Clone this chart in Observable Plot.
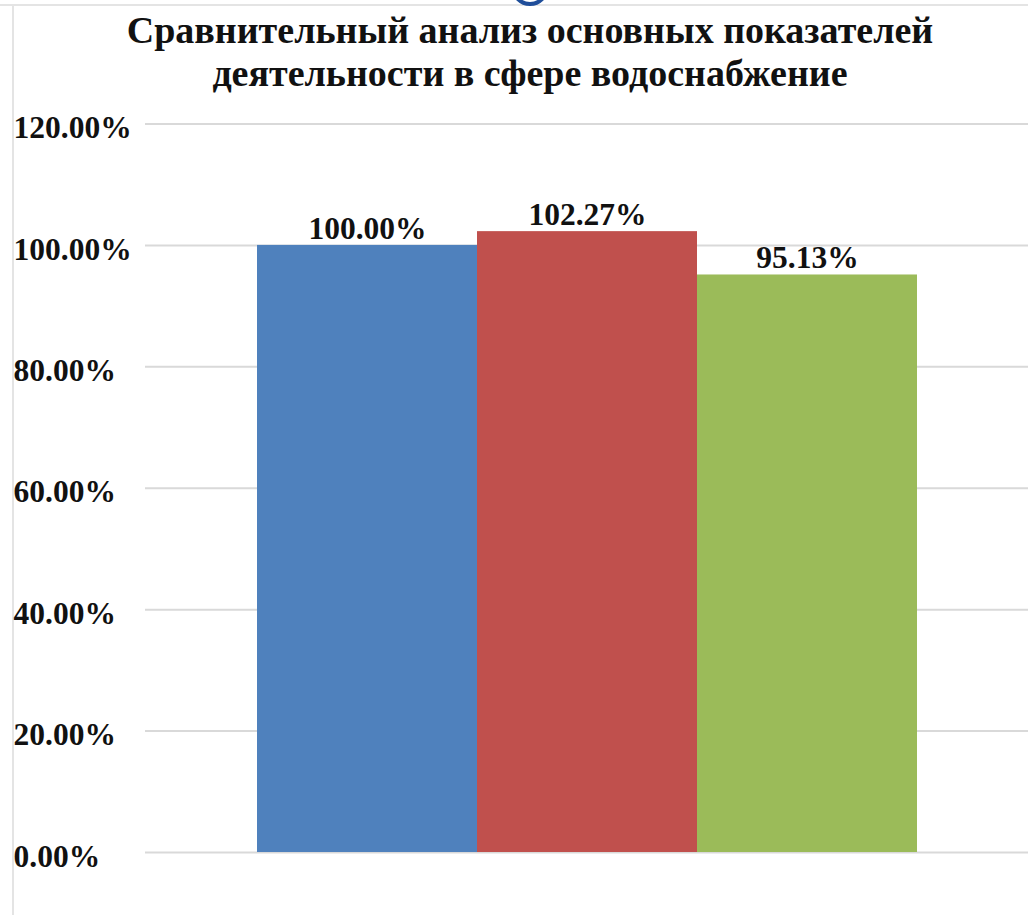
<!DOCTYPE html>
<html>
<head>
<meta charset="utf-8">
<script src="https://cdn.jsdelivr.net/npm/d3@7"></script>
<script src="https://cdn.jsdelivr.net/npm/@observablehq/plot@0.6"></script>
<style>
  html, body { margin: 0; padding: 0; background: #fff; }
  #wrap { position: relative; width: 1028px; height: 915px; overflow: hidden; background: #fff; }
  #topline { position: absolute; left: 0; top: 4px; width: 1028px; height: 2px; background: #e4e4e4; }
  #leftline { position: absolute; left: 12px; top: 5px; width: 2px; height: 910px; background: #e4e4e4; }
  #ring { position: absolute; left: 511px; top: -32px; width: 30px; height: 30px; border: 4px solid #1f4e9a; border-radius: 50%; }
  #title { position: absolute; left: 0; top: 9px; width: 1060px; text-align: center;
    font-family: "Liberation Serif", "Times New Roman", serif; font-weight: bold; font-size: 38px; line-height: 43px; color: #111; }
  #chart { position: absolute; left: 0; top: 100px; }
</style>
</head>
<body>
<div id="wrap">
  <div id="topline"></div>
  <div id="leftline"></div>
  <div id="ring"></div>
  <div id="title">Сравнительный анализ основных показателей<br>деятельности в сфере водоснабжение</div>
  <div id="chart"></div>
</div>
<script>
const categories = ["Показатель 1", "Показатель 2", "Показатель 3"];
const values = [100.00, 102.27, 95.13];
const colors = ["#4f81bd", "#c0504d", "#9bbb59"];
const yTicks = [0, 20, 40, 60, 80, 100, 120];

const data = categories.map((c, i) => ({category: c, value: values[i], color: colors[i]}));
const fmt = d => d.toFixed(2) + "%";

const chart = Plot.plot({
  width: 1028,
  height: 815,
  marginLeft: 145,
  marginRight: 0,
  marginTop: 23.5,
  marginBottom: 63,
  style: {fontFamily: "'Liberation Serif', 'Times New Roman', serif", background: "transparent"},
  x: {domain: categories, paddingInner: 0, paddingOuter: 0.5, axis: null},
  y: {domain: [0, 120], ticks: yTicks, label: null},
  marks: [
    Plot.gridY(yTicks, {stroke: "#d9d9d9", strokeOpacity: 1, strokeWidth: 2}),
    Plot.barY(data, {x: "category", y: "value", fill: "color"}),
    Plot.axisY(yTicks, {tickSize: 0, tickPadding: 0, textAnchor: "start", dx: -132, tickFormat: fmt,
      fontSize: 31.5, fontWeight: "bold", fill: "#111", dy: 4, label: null}),
    Plot.text(data, {x: "category", y: "value", text: d => fmt(d.value), dy: -17,
      fontSize: 31.5, fontWeight: "bold", fill: "#111"})
  ]
});
document.getElementById("chart").appendChild(chart);
</script>
</body>
</html>
